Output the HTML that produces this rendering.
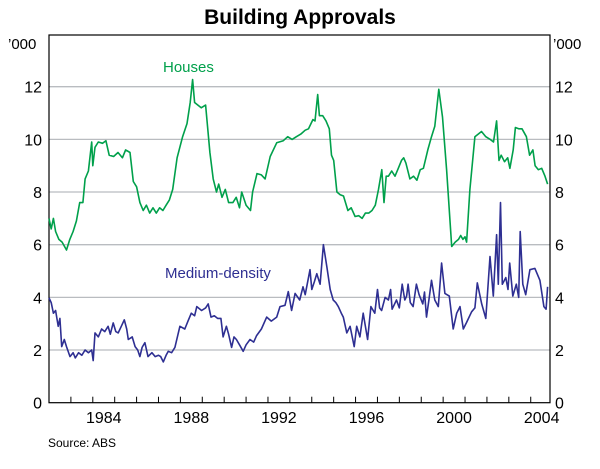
<!DOCTYPE html>
<html><head><meta charset="utf-8"><style>
body{margin:0;background:#fff;}
svg{display:block;font-family:"Liberation Sans",Arial,sans-serif;}
</style></head><body>
<svg width="600" height="469" viewBox="0 0 600 469">
<text x="300" y="24" text-anchor="middle" font-size="21" font-weight="bold" fill="#000">Building Approvals</text>
<g id="grid"></g>
<g id="axes"></g>
<g id="series"></g>
<text x="8" y="49" font-size="15">’000</text>
<text x="553" y="49" font-size="15">’000</text>
<text x="163" y="72" font-size="15" fill="#00a04b">Houses</text>
<text x="165" y="278" font-size="15" fill="#2e2f92">Medium-density</text>
<text x="48" y="447" font-size="12">Source: ABS</text>
</svg>
<script>
const yTicks=[0,2,4,6,8,10,12];
const xYears=[1984,1988,1992,1996,2000,2004];
const housesT=[1982.0,1982.1,1982.2,1982.3,1982.45,1982.6,1982.8,1982.95,1983.1,1983.25,1983.4,1983.55,1983.65,1983.8,1983.95,1984.0,1984.1,1984.25,1984.45,1984.6,1984.75,1984.95,1985.15,1985.35,1985.5,1985.7,1985.85,1986.0,1986.15,1986.3,1986.45,1986.6,1986.75,1986.9,1987.05,1987.2,1987.35,1987.5,1987.65,1987.85,1988.1,1988.3,1988.45,1988.56,1988.65,1988.8,1988.95,1989.15,1989.35,1989.5,1989.65,1989.75,1989.9,1990.05,1990.2,1990.4,1990.55,1990.7,1990.8,1991.0,1991.2,1991.3,1991.5,1991.7,1991.87,1992.1,1992.4,1992.7,1992.9,1993.1,1993.3,1993.5,1993.7,1993.85,1994.05,1994.15,1994.27,1994.35,1994.5,1994.65,1994.8,1994.9,1995.0,1995.15,1995.3,1995.45,1995.65,1995.8,1995.98,1996.15,1996.3,1996.45,1996.6,1996.75,1996.9,1997.05,1997.2,1997.3,1997.4,1997.5,1997.65,1997.8,1997.95,1998.1,1998.2,1998.3,1998.48,1998.65,1998.8,1998.95,1999.1,1999.3,1999.47,1999.62,1999.8,1999.97,2000.16,2000.39,2000.55,2000.7,2000.8,2000.9,2001.0,2001.07,2001.22,2001.45,2001.6,2001.75,2001.95,2002.15,2002.3,2002.44,2002.55,2002.65,2002.8,2002.95,2003.05,2003.2,2003.3,2003.45,2003.6,2003.8,2003.95,2004.1,2004.2,2004.35,2004.5,2004.65,2004.77];
const housesV=[7.0,6.6,7.0,6.5,6.2,6.1,5.8,6.2,6.5,6.9,7.6,7.6,8.5,8.8,9.9,9.0,9.7,9.9,9.85,9.95,9.4,9.35,9.5,9.3,9.6,9.5,8.4,8.2,7.6,7.3,7.5,7.2,7.4,7.2,7.4,7.3,7.5,7.7,8.1,9.3,10.1,10.6,11.4,12.27,11.4,11.3,11.2,11.3,9.5,8.5,8.0,8.3,7.8,8.1,7.6,7.6,7.8,7.4,8.0,7.5,7.3,8.0,8.7,8.65,8.5,9.35,9.87,9.95,10.1,10.0,10.1,10.2,10.35,10.4,10.75,10.7,11.7,10.9,10.9,10.7,10.4,9.4,9.2,8.0,7.9,7.85,7.3,7.4,7.07,7.1,7.0,7.2,7.2,7.3,7.5,8.1,8.85,7.6,8.6,8.6,8.8,8.6,8.9,9.2,9.3,9.1,8.5,8.6,8.45,8.85,8.9,9.6,10.1,10.5,11.9,10.85,8.85,5.93,6.1,6.2,6.35,6.2,6.3,6.1,8.1,10.1,10.2,10.3,10.1,10.0,9.9,10.7,9.2,9.4,9.15,9.3,8.9,9.6,10.45,10.4,10.4,10.1,9.4,9.6,9.0,8.85,8.9,8.6,8.3];
const mediumT=[1982.0,1982.1,1982.2,1982.3,1982.42,1982.5,1982.58,1982.7,1982.8,1982.96,1983.1,1983.2,1983.35,1983.5,1983.65,1983.8,1983.95,1984.02,1984.1,1984.25,1984.4,1984.55,1984.7,1984.8,1984.93,1985.05,1985.16,1985.3,1985.44,1985.55,1985.62,1985.8,1985.93,1986.05,1986.15,1986.25,1986.38,1986.52,1986.7,1986.85,1987.0,1987.1,1987.22,1987.35,1987.45,1987.6,1987.75,1987.98,1988.2,1988.35,1988.5,1988.65,1988.75,1988.97,1989.15,1989.27,1989.4,1989.55,1989.7,1989.85,1989.95,1990.1,1990.2,1990.34,1990.45,1990.56,1990.7,1990.87,1991.0,1991.18,1991.35,1991.48,1991.7,1991.94,1992.15,1992.4,1992.55,1992.78,1992.93,1993.08,1993.24,1993.45,1993.6,1993.7,1993.92,1994.0,1994.12,1994.23,1994.38,1994.53,1994.69,1994.84,1994.98,1995.1,1995.21,1995.35,1995.44,1995.6,1995.75,1995.94,1996.05,1996.2,1996.35,1996.55,1996.7,1996.88,1997.0,1997.1,1997.19,1997.35,1997.5,1997.6,1997.67,1997.87,1998.0,1998.13,1998.25,1998.33,1998.4,1998.5,1998.63,1998.78,1998.9,1999.07,1999.15,1999.24,1999.35,1999.47,1999.62,1999.78,1999.93,2000.08,2000.28,2000.46,2000.62,2000.77,2000.92,2001.07,2001.3,2001.45,2001.56,2001.76,2001.95,2002.14,2002.29,2002.44,2002.52,2002.62,2002.7,2002.86,2002.96,2003.04,2003.18,2003.34,2003.45,2003.52,2003.64,2003.77,2003.96,2004.19,2004.42,2004.6,2004.7,2004.77];
const mediumV=[3.98,3.8,3.4,3.5,2.9,3.2,2.13,2.4,2.13,1.75,1.9,1.7,1.9,1.8,2.0,1.9,2.0,1.6,2.65,2.5,2.8,2.7,2.9,2.6,3.03,2.7,2.65,2.9,3.15,2.8,2.4,2.5,2.13,2.0,1.75,2.1,2.28,1.75,1.9,1.75,1.8,1.75,1.55,1.8,1.95,1.9,2.1,2.9,2.8,3.1,3.4,3.3,3.65,3.5,3.6,3.75,3.25,3.3,3.2,3.2,2.5,2.9,2.6,2.1,2.5,2.4,2.2,1.95,2.2,2.4,2.3,2.55,2.8,3.25,3.1,3.25,3.65,3.7,4.22,3.5,4.15,3.9,4.4,4.1,5.05,4.3,4.6,4.9,4.5,6.0,5.15,4.3,3.9,3.8,3.65,3.4,3.25,2.65,2.9,2.13,2.9,2.5,3.4,2.4,3.65,3.4,4.3,3.6,3.5,4.0,3.9,4.3,3.55,3.9,3.6,4.5,3.9,4.05,4.5,3.8,3.65,4.5,4.1,3.75,4.2,3.25,3.9,4.65,3.9,3.65,5.3,4.15,4.05,2.8,3.4,3.65,2.8,3.05,3.45,3.6,4.55,3.75,3.2,5.55,4.05,6.38,4.5,7.6,4.5,4.75,4.3,5.3,4.05,4.5,4.0,6.5,4.5,4.1,5.05,5.1,4.65,3.65,3.55,4.4];

const L=49,R=550,T=35,B=402.7;
const x0=1982,x1=2004.88;
function xs(t){return L+(t-x0)/(x1-x0)*(R-L);}
function ys(v){return B-v/12*(B-86.7);}
const NS='http://www.w3.org/2000/svg';
function mk(tag,attrs,parent){const e=document.createElementNS(NS,tag);for(const k in attrs)e.setAttribute(k,attrs[k]);parent.appendChild(e);return e;}
const grid=document.getElementById('grid'),axes=document.getElementById('axes'),series=document.getElementById('series');
yTicks.forEach(v=>{
  if(v>0){const g=mk('line',{x1:L,x2:R,y1:ys(v),y2:ys(v),stroke:'#b9bcc0','stroke-width':1.3},grid);
  
  }
  const a=mk('text',{x:42,y:ys(v)+6,'text-anchor':'end','font-size':16},axes);a.textContent=v;
  
  
  const b=mk('text',{x:555,y:ys(v)+6,'font-size':16},axes);b.textContent=v;
  
  
});
const box=mk('rect',{x:L,y:T,width:R-L,height:B-T,fill:'none',stroke:'#000','stroke-width':1.2},axes);


for(let yr=1983;yr<=2004;yr++){
  const tk=mk('line',{x1:xs(yr),x2:xs(yr),y1:B,y2:B-6,stroke:'#000','stroke-width':1},axes);
  
  
}
xYears.forEach(yr=>{
  const t=mk('text',{x:xs(yr+0.5),y:423,'text-anchor':'middle','font-size':16},axes);t.textContent=yr;
  
  
});
function line(ts,vs,color,name){
  const d=ts.map((t,i)=>(i?'L':'M')+xs(t).toFixed(1)+','+ys(vs[i]).toFixed(1)).join('');
  const p=mk('path',{d:d,fill:'none',stroke:color,'stroke-width':1.6,'stroke-linejoin':'round'},series);
  
  
}
line(housesT,housesV,'#00a04b','houses-line');
line(mediumT,mediumV,'#2e2f92','medium-density-line');
</script>
</body></html>
